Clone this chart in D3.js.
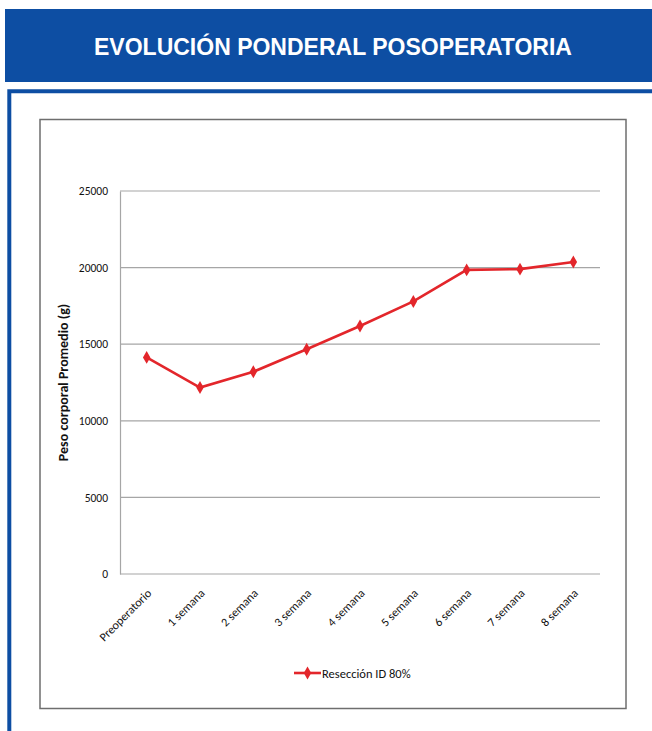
<!DOCTYPE html>
<html><head><meta charset="utf-8">
<script src="https://cdn.jsdelivr.net/npm/d3@7"></script>
<style>
html,body{margin:0;padding:0;background:#fff;}
svg{display:block;}
</style></head>
<body>
<svg id="chart" width="652" height="731"></svg>
<script>
const title = "EVOLUCIÓN PONDERAL POSOPERATORIA";
const categories = ["Preoperatorio","1 semana","2 semana","3 semana","4 semana","5 semana","6 semana","7 semana","8 semana"];
const values = [14140, 12170, 13200, 14670, 16190, 17790, 19850, 19900, 20370];
const yTicks = [0, 5000, 10000, 15000, 20000, 25000];
const seriesName = "Resección ID 80%";
const yLabel = "Peso corporal Promedio (g)";

(function(){
const svg = d3.select("#chart");
const font = "Carlito, Lato, 'Liberation Sans', sans-serif";

// header band
svg.append("rect").attr("x",5).attr("y",9).attr("width",647).attr("height",73).attr("fill","#0d4ea3");
svg.append("text").attr("x",333).attr("y",55).attr("text-anchor","middle")
  .attr("font-family","'Liberation Sans', Arial, sans-serif").attr("font-weight","bold")
  .attr("font-size",23).attr("fill","#fff").text(title);

// blue frame
svg.append("path").attr("d","M9.3,731 V91.3 H652").attr("fill","none").attr("stroke","#0d4ea3").attr("stroke-width",4);

// chart box
svg.append("rect").attr("x",40).attr("y",119.5).attr("width",586).attr("height",589)
  .attr("fill","#fff").attr("stroke","#6e6e6e").attr("stroke-width",1.5);

const pLeft = 120, pRight = 600, pTop = 191, pBottom = 574;
const x = d3.scalePoint().domain(categories).range([pLeft, pRight]).padding(0.5);
const y = d3.scaleLinear().domain([0, 25000]).range([pBottom, pTop]);

// gridlines
svg.append("g").selectAll("line").data(yTicks.filter(d=>d>0)).join("line")
  .attr("x1",pLeft).attr("x2",pRight).attr("y1",d=>y(d)).attr("y2",d=>y(d))
  .attr("stroke","#a6a6a6").attr("stroke-width",1.2);

// y axis
const yAxis = svg.append("g").attr("transform",`translate(${pLeft},0)`)
  .call(d3.axisLeft(y).tickValues(yTicks).tickSize(0).tickPadding(12).tickFormat(d3.format("d")));
yAxis.select(".domain").attr("stroke","#a6a6a6").attr("stroke-width",1.2);
yAxis.selectAll("text").attr("font-family",font).attr("font-size",11.5).attr("fill","#111");

// x axis
const xAxis = svg.append("g").attr("transform",`translate(0,${pBottom})`)
  .call(d3.axisBottom(x).tickSize(0).tickPadding(0));
xAxis.select(".domain").attr("stroke","#a6a6a6").attr("stroke-width",1.2).attr("d",`M${pLeft},0H${pRight}`);
xAxis.selectAll("text").attr("font-family",font).attr("font-size",12).attr("fill","#111")
  .attr("text-anchor","end").attr("dy",0).attr("y",0)
  .attr("transform","translate(5,20) rotate(-45)");

// y label
svg.append("text").attr("transform",`translate(68,${(pTop+pBottom)/2}) rotate(-90)`)
  .attr("text-anchor","middle").attr("font-family",font).attr("font-weight","bold")
  .attr("font-size",14).attr("fill","#111").text(yLabel);

// line
const red = "#e3262b";
svg.append("path").datum(values)
  .attr("d", d3.line().x((d,i)=>x(categories[i])).y(d=>y(d)))
  .attr("fill","none").attr("stroke",red).attr("stroke-width",2.6);
const diamond = d3.symbol().type(d3.symbolDiamond).size(48);
svg.append("g").selectAll("path").data(values).join("path")
  .attr("transform",(d,i)=>`translate(${x(categories[i])},${y(d)})`)
  .attr("d",diamond).attr("fill",red);

// legend
svg.append("line").attr("x1",294).attr("x2",321).attr("y1",673).attr("y2",673).attr("stroke",red).attr("stroke-width",2.6);
svg.append("path").attr("transform","translate(307.5,673)").attr("d",diamond).attr("fill",red);
svg.append("text").attr("x",322).attr("y",677.5).attr("font-family",font).attr("font-size",12.5).attr("fill","#111").text(seriesName);
})();
</script>
</body></html>
